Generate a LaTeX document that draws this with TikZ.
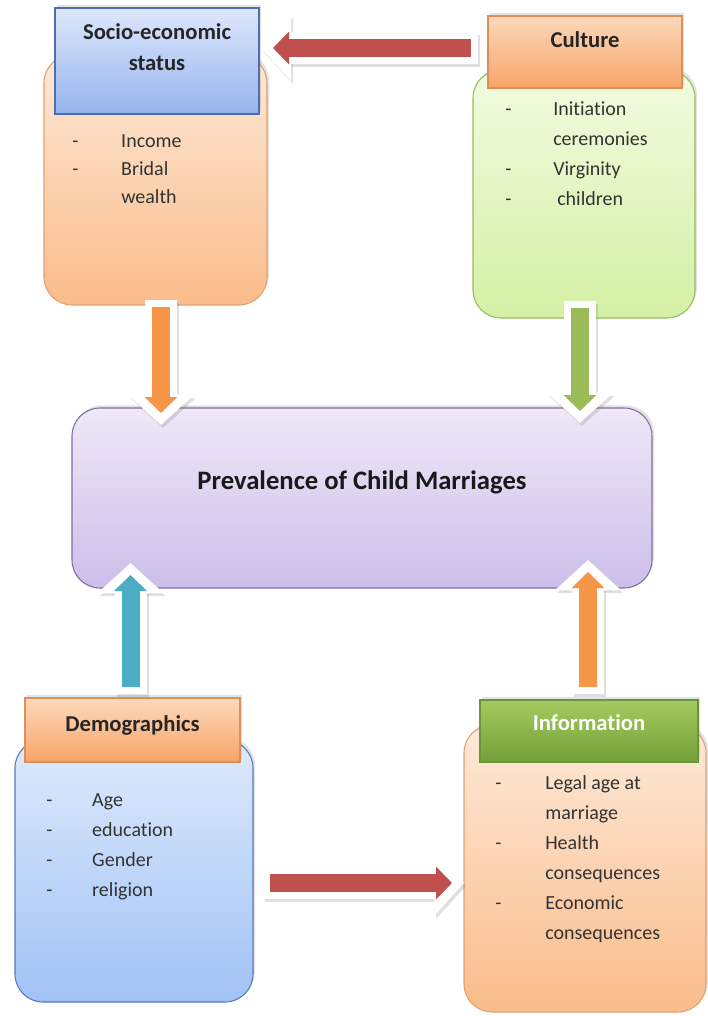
\documentclass[tikz,border=0pt]{standalone}
\usepackage{fontspec}
\setmainfont{Carlito}[Ligatures=CommonOff]
\usetikzlibrary{arrows.meta,shadows,calc}

\newdimen\pxunit \pxunit=0.75pt

\definecolor{socioTop}{RGB}{221,231,251}
\definecolor{socioBot}{RGB}{150,180,238}
\definecolor{socioLine}{RGB}{79,110,176}
\definecolor{peachTop}{RGB}{253,233,216}
\definecolor{peachBot}{RGB}{250,188,138}
\definecolor{peachLine}{RGB}{226,160,112}
\definecolor{tanTop}{RGB}{252,216,188}
\definecolor{tanBot}{RGB}{248,164,104}
\definecolor{tanLine}{RGB}{222,142,88}
\definecolor{limeTop}{RGB}{242,251,224}
\definecolor{limeBot}{RGB}{212,240,164}
\definecolor{limeLine}{RGB}{150,188,96}
\definecolor{lilacTop}{RGB}{238,232,247}
\definecolor{lilacBot}{RGB}{204,190,234}
\definecolor{lilacLine}{RGB}{128,112,160}
\definecolor{skyTop}{RGB}{222,234,252}
\definecolor{skyBot}{RGB}{160,194,245}
\definecolor{skyLine}{RGB}{84,122,188}
\definecolor{infoTop}{RGB}{164,202,94}
\definecolor{infoBot}{RGB}{116,160,56}
\definecolor{infoLine}{RGB}{108,148,58}
\definecolor{arrRed}{RGB}{192,80,77}
\definecolor{arrOrange}{RGB}{247,150,70}
\definecolor{arrGreen}{RGB}{155,187,89}
\definecolor{arrBlue}{RGB}{75,172,198}

\tikzset{
  softshadow/.style={drop shadow={shadow xshift=1.5pt,shadow yshift=2pt,opacity=0.22}},
  bodybox/.style n args={3}{draw=#3,line width=0.8pt,top color=#1,bottom color=#2,rounded corners=21pt,inner sep=0pt,outer sep=0pt,softshadow},
  headbox/.style n args={3}{draw=#3,line width=0.8pt,top color=#1,bottom color=#2,inner sep=0pt,outer sep=0pt,anchor=north,softshadow,font=\fontsize{17}{23}\selectfont\bfseries,text=black!85},
  items/.style={anchor=base west,inner sep=0pt,font=\fontsize{15}{22.5}\selectfont,text=black!80},
  blockarrow/.style={
    preaction={draw=black!60,opacity=0.2,line width=24pt,shorten <=-5.25pt,shorten >=-9pt,-{Triangle[length=22.5pt,width=48pt]},transform canvas={shift={(1.5pt,-2.25pt)}}},
    preaction={draw=white,line width=24pt,shorten <=-5.25pt,shorten >=-9pt,-{Triangle[length=22.5pt,width=48pt]}},
    draw=#1,line width=13.5pt,-{Triangle[length=12pt,width=24pt]}}
}

\begin{document}
\begin{tikzpicture}[x=0.75pt,y=0.75pt,yscale=-1,xscale=1]
    \useasboundingbox[fill=white] (0,0) rectangle (707,1016);

    %Socio-economic status
    \node[bodybox={peachTop}{peachBot}{peachLine},minimum width=223\pxunit,minimum height=250\pxunit] (socB) at (155.5,180) {};
    \node[headbox={socioTop}{socioBot}{socioLine},minimum width=204\pxunit,text height=32\pxunit,text depth=74\pxunit] (socH) at (157,8) {\begin{tabular}[t]{@{}c@{}}Socio-economic\\status\end{tabular}};
    \node[items,font=\fontsize{15}{21}\selectfont] (socI) at (72,148) {\begin{tabular}[t]{@{}p{49\pxunit}@{}l@{}}-&Income\\-&Bridal\\&wealth\end{tabular}};

    %Culture
    \node[bodybox={limeTop}{limeBot}{limeLine},minimum width=222\pxunit,minimum height=248\pxunit] (culB) at (584,194) {};
    \node[headbox={tanTop}{tanBot}{tanLine},minimum width=194\pxunit,text height=32\pxunit,text depth=40\pxunit] (culH) at (585,16) {Culture};
    \node[items] (culI) at (505,116) {\begin{tabular}[t]{@{}p{48\pxunit}@{}l@{}}-&Initiation\\&ceremonies\\-&Virginity\\-&\hspace{4\pxunit}children\end{tabular}};

    %Prevalence
    \node[bodybox={lilacTop}{lilacBot}{lilacLine},anchor=north,minimum width=580\pxunit,text height=81\pxunit,text depth=99\pxunit,font=\fontsize{20}{24}\selectfont\bfseries,text=black!90] (purp) at (362,408) {Prevalence of Child Marriages};

    %Demographics
    \node[bodybox={skyTop}{skyBot}{skyLine},minimum width=238\pxunit,minimum height=262\pxunit] (demB) at (134,871) {};
    \node[headbox={tanTop}{tanBot}{tanLine},minimum width=215\pxunit,text height=33\pxunit,text depth=31\pxunit] (demH) at (132.5,698) {Demographics};
    \node[items] (demI) at (46,806) {\begin{tabular}[t]{@{}p{46\pxunit}@{}l@{}}-&Age\\-&education\\-&Gender\\-&religion\end{tabular}};

    %Information
    \node[bodybox={peachTop}{peachBot}{peachLine},minimum width=242\pxunit,minimum height=287\pxunit] (infB) at (585,868.5) {};
    \node[headbox={infoTop}{infoBot}{infoLine},minimum width=218\pxunit,text height=30\pxunit,text depth=32\pxunit,text=white] (infH) at (589,700) {Information};
    \node[items] (infI) at (495,789) {\begin{tabular}[t]{@{}p{50\pxunit}@{}l@{}}-&Legal age at\\&marriage\\-&Health\\&consequences\\-&Economic\\&consequences\end{tabular}};

    %Block arrows
    \coordinate (rA) at ($(culH.west)+(-17,-4)$);
    \draw[blockarrow=arrRed] (rA) -- ($(socH.east |- rA)+(14,0)$);
    \coordinate (oA) at ($(socB.south)+(5.5,2)$);
    \draw[blockarrow=arrOrange] (oA) -- ($(oA |- purp.north)+(0,5)$);
    \coordinate (gA) at ($(culB.south)+(-4,-10)$);
    \draw[blockarrow=arrGreen] (gA) -- ($(gA |- purp.north)+(0,3)$);
    \coordinate (bA) at ($(demH.north)+(-2,-11)$);
    \draw[blockarrow=arrBlue] (bA) -- ($(bA |- purp.south)+(0,-13)$);
    \coordinate (oB) at ($(infH.north)+(-1,-13)$);
    \draw[blockarrow=arrOrange] (oB) -- ($(oB |- purp.south)+(0,-16)$);
    \coordinate (rB) at ($(demB.east)+(17,12)$);
    \draw[blockarrow=arrRed] (rB) -- ($(infB.west |- rB)+(-12,0)$);
\end{tikzpicture}
\end{document}
